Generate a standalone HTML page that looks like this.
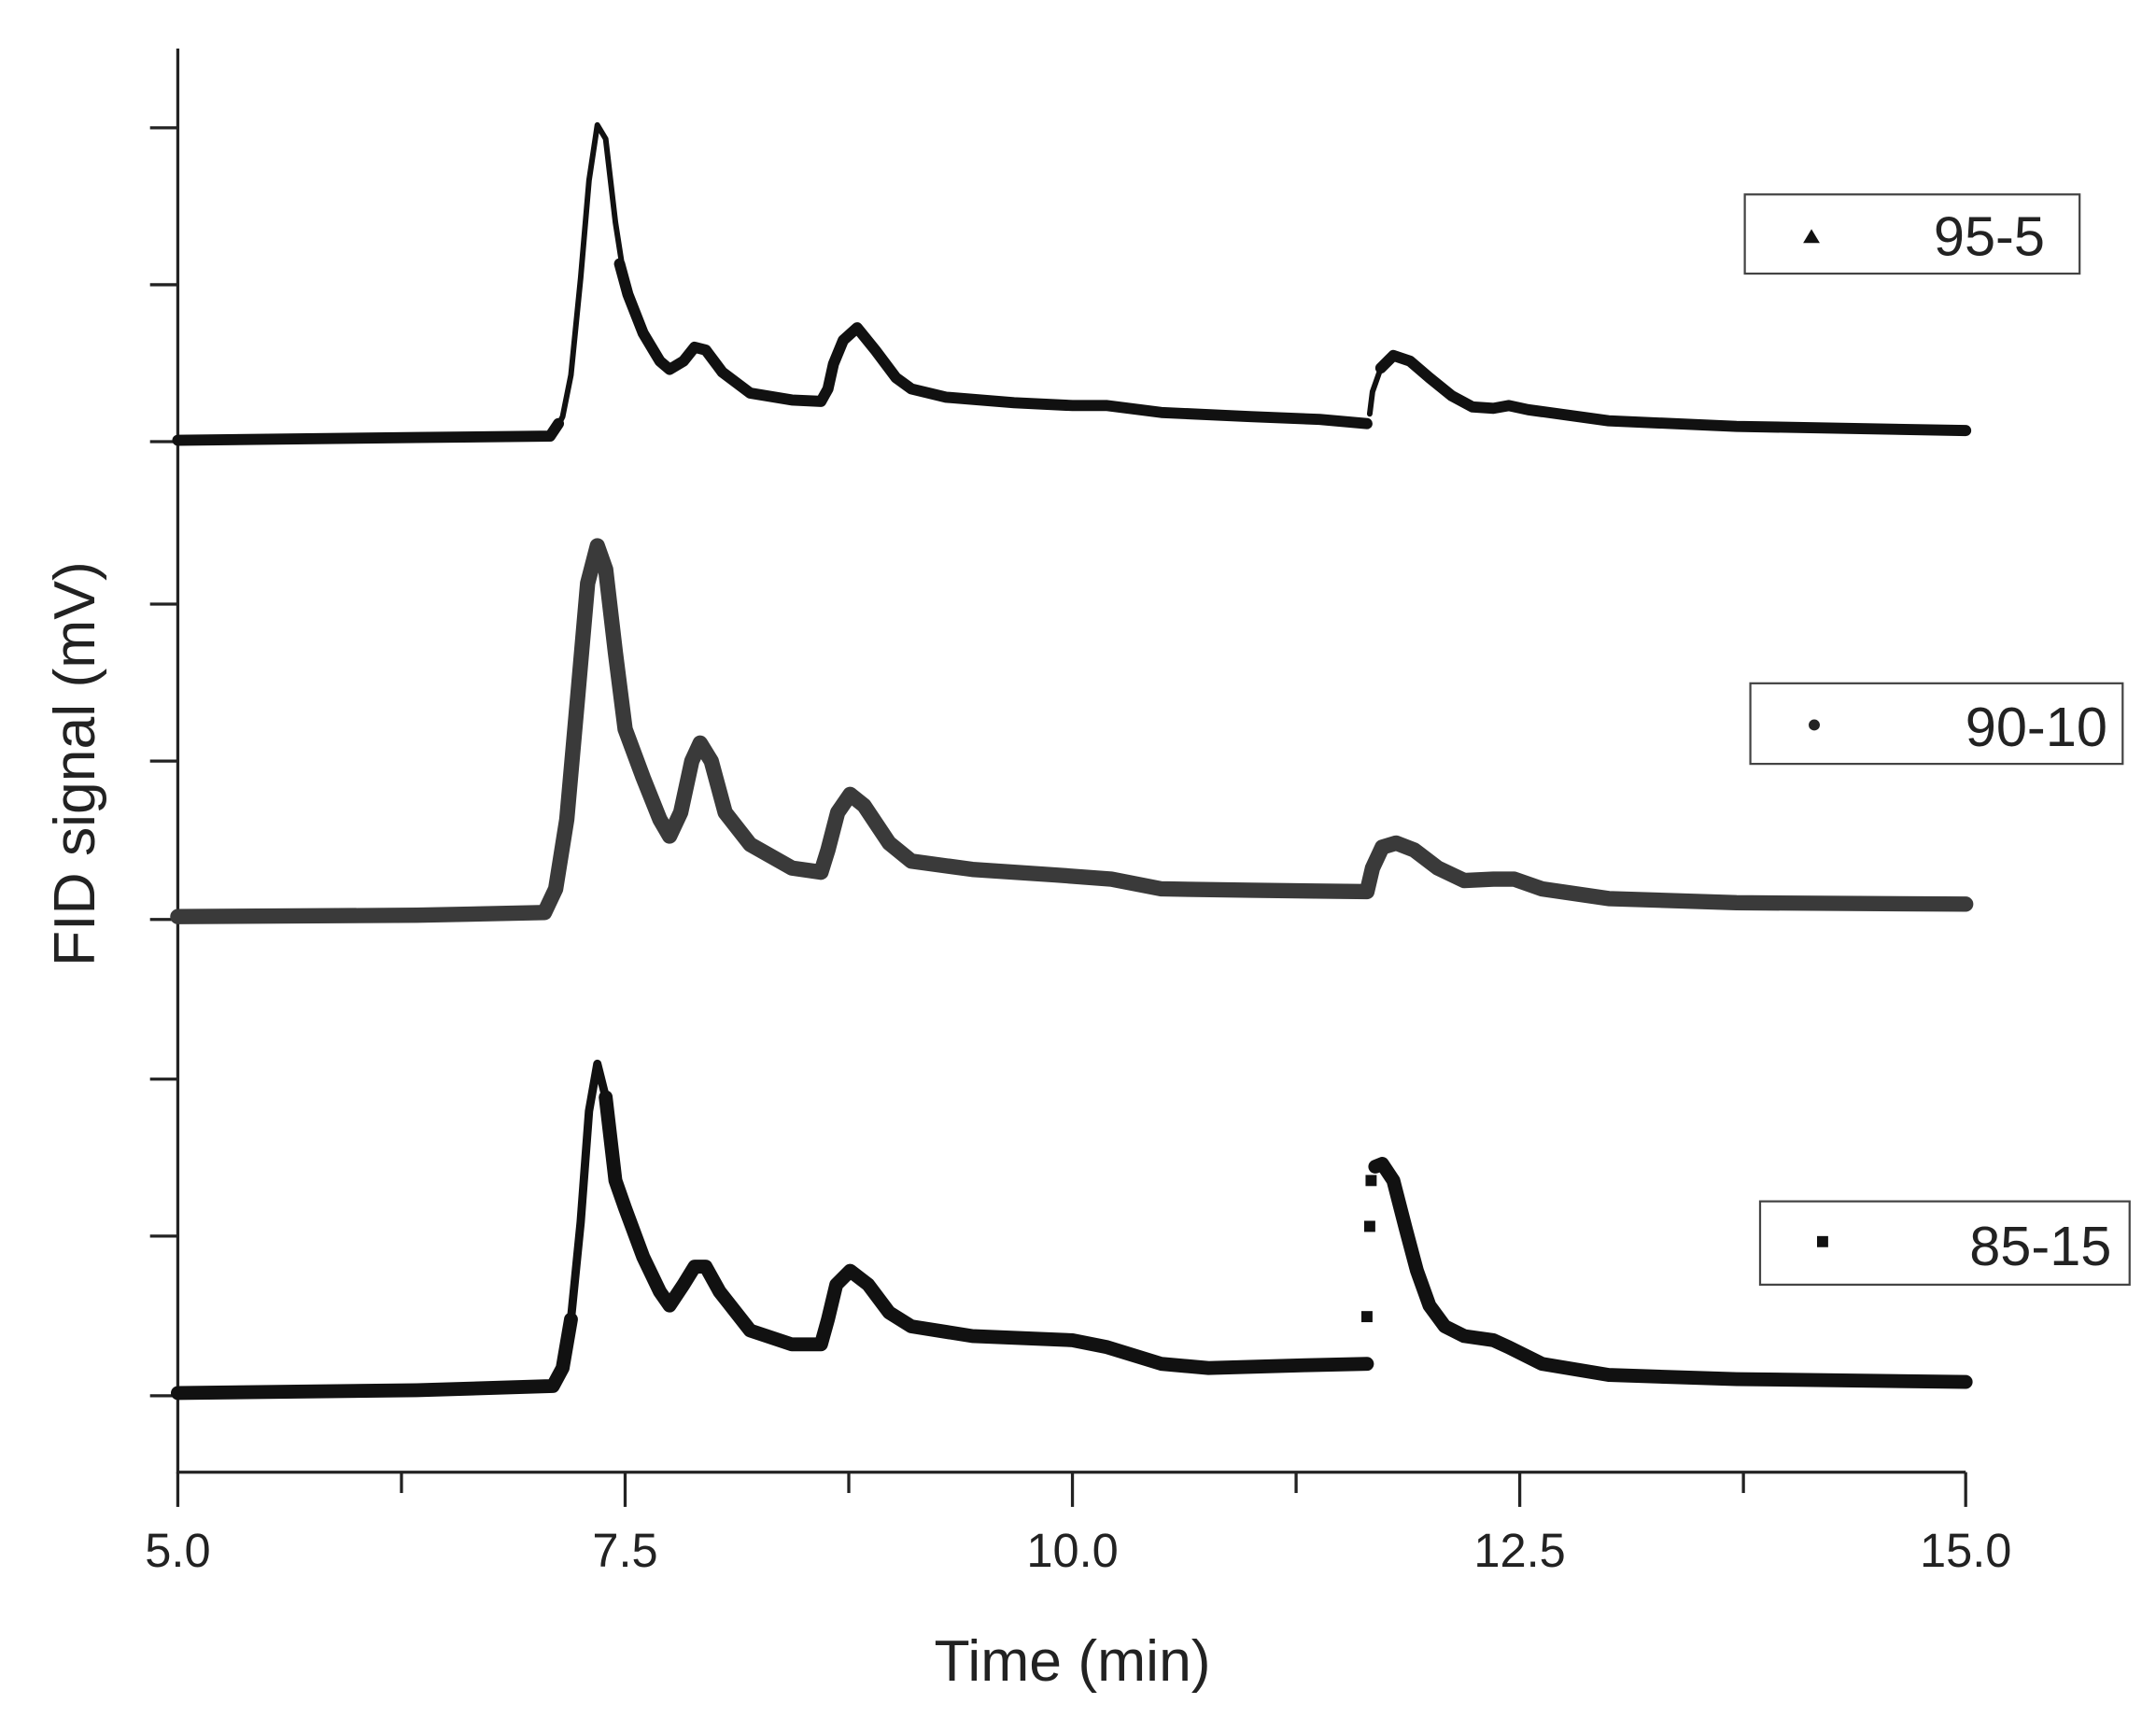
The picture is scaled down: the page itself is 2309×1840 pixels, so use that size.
<!DOCTYPE html>
<html><head><meta charset="utf-8"><style>
html,body{margin:0;padding:0;background:#fff;}
svg{display:block}
text{font-family:"Liberation Sans",sans-serif;fill:#222}
</style></head><body>
<svg width="2309" height="1840" viewBox="0 0 1552 1237" preserveAspectRatio="none">
<g stroke="#222" stroke-width="2.2" fill="none">
<line x1="128" y1="35" x2="128" y2="1061"/>
<line x1="128" y1="1060" x2="1415" y2="1060"/>
<g>
<line x1="108" y1="92" x2="128" y2="92"/><line x1="108" y1="205" x2="128" y2="205"/><line x1="108" y1="318" x2="128" y2="318"/>
<line x1="108" y1="435" x2="128" y2="435"/><line x1="108" y1="548" x2="128" y2="548"/><line x1="108" y1="662" x2="128" y2="662"/>
<line x1="108" y1="777" x2="128" y2="777"/><line x1="108" y1="890" x2="128" y2="890"/><line x1="108" y1="1005" x2="128" y2="1005"/>
</g>
<g>
<line x1="128" y1="1060" x2="128" y2="1085"/><line x1="289" y1="1060" x2="289" y2="1075"/>
<line x1="450" y1="1060" x2="450" y2="1085"/><line x1="611" y1="1060" x2="611" y2="1075"/>
<line x1="772" y1="1060" x2="772" y2="1085"/><line x1="933" y1="1060" x2="933" y2="1075"/>
<line x1="1094" y1="1060" x2="1094" y2="1085"/><line x1="1255" y1="1060" x2="1255" y2="1075"/>
<line x1="1415" y1="1060" x2="1415" y2="1085"/>
</g>
</g>
<g font-size="34" text-anchor="middle">
<text x="128" y="1128">5.0</text><text x="450" y="1128">7.5</text><text x="772" y="1128">10.0</text>
<text x="1094" y="1128">12.5</text><text x="1415" y="1128">15.0</text>
</g>
<text x="772" y="1210" font-size="42" text-anchor="middle">Time (min)</text>
<text transform="translate(68,550) rotate(-90)" font-size="42" text-anchor="middle">FID signal (mV)</text>

<g fill="none" stroke-linejoin="round" stroke-linecap="round">
<!-- 95-5 -->
<polyline stroke="#111" stroke-width="4" points="398,314 405,300 411,270 418,200 424,130 430,90 436,100 443,160 450,205"/>
<polyline stroke="#111" stroke-width="8" points="128,317 300,315 396,314 402,305"/>
<polyline stroke="#111" stroke-width="8" points="446,190 452,212 463,240 475,260 482,266 492,260 500,250 508,252 520,268 540,283 570,288 591,289 596,280 600,262 607,245 617,236 630,252 645,272 656,280 681,286 730,290 772,292 797,292 836,297 900,300 950,302 984,305"/>
<polyline stroke="#111" stroke-width="8" points="994,265 1003,256 1015,260 1029,272 1045,285 1060,293 1075,294 1086,292 1100,295 1158,303 1250,307 1415,310"/>
<polyline stroke="#111" stroke-width="4" points="986,298 988,282 994,265"/>
<!-- 90-10 -->
<polyline stroke="#3a3a3a" stroke-width="11" points="128,660 300,659 392,657 400,640 408,590 416,500 423,420 430,393 436,410 443,470 450,525 463,560 475,590 482,602 490,585 498,548 504,535 512,548 522,585 540,608 570,625 591,628 596,612 603,585 612,572 622,580 640,607 656,620 700,626 760,630 800,633 836,640 900,641 984,642 988,625 995,610 1005,607 1018,612 1035,625 1054,634 1075,633 1090,633 1110,640 1158,647 1250,650 1415,651"/>
<!-- 85-15 -->
<polyline stroke="#111" stroke-width="10" points="128,1003 300,1001 398,998 405,985 411,950"/>
<polyline stroke="#111" stroke-width="6" points="411,950 418,880 424,800 430,766 436,790"/>
<polyline stroke="#111" stroke-width="10" points="436,790 443,850 450,870 463,905 475,930 482,940 492,925 500,912 508,912 518,930 540,958 570,968 591,968 596,950 602,925 612,915 625,925 640,945 656,955 700,962 772,965 797,970 836,982 870,985 940,983 984,982"/>
<polyline stroke="#111" stroke-width="10" points="990,840 995,838 1003,850 1012,885 1020,915 1029,940 1040,955 1054,962 1075,965 1086,970 1110,982 1158,990 1250,993 1415,995"/>
</g>
<g fill="#111">
<rect x="980" y="944" width="8" height="8"/><rect x="982" y="879" width="8" height="8"/><rect x="983" y="846" width="8" height="8"/>
</g>

<!-- legends -->
<g stroke="#444" stroke-width="1.5" fill="#fff">
<rect x="1256" y="140" width="241" height="57"/>
<rect x="1260" y="492" width="268" height="58"/>
<rect x="1267" y="865" width="266" height="60"/>
</g>
<polygon points="1298,175 1304,165 1310,175" fill="#111"/>
<circle cx="1306" cy="522" r="4" fill="#222"/>
<rect x="1308" y="890" width="8" height="8" fill="#111"/>
<g font-size="40" text-anchor="end">
<text x="1472" y="184">95-5</text>
<text x="1517" y="537">90-10</text>
<text x="1520" y="911">85-15</text>
</g>
</svg>
</body></html>
